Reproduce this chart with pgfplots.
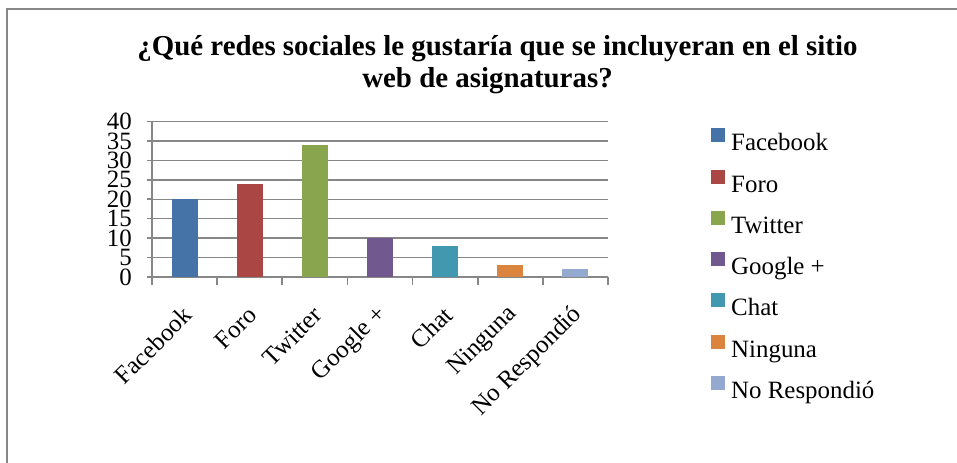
\documentclass[border=0pt]{standalone}
\usepackage{fontspec}
\setmainfont{Liberation Serif}
\usepackage{pgfplots}
\pgfplotsset{compat=1.18}
\definecolor{cFacebook}{HTML}{4572A7}
\definecolor{cForo}{HTML}{AA4643}
\definecolor{cTwitter}{HTML}{89A54E}
\definecolor{cGoogle}{HTML}{71588F}
\definecolor{cChat}{HTML}{4198AF}
\definecolor{cNinguna}{HTML}{DB843D}
\definecolor{cNoResp}{HTML}{93A9CF}
\definecolor{gridgray}{HTML}{878787}
\newcommand{\lbl}{\fontsize{25}{30}\selectfont}
\begin{document}
\begin{tikzpicture}
\path[use as bounding box] (0,0) rectangle (957bp,463bp);
\draw[gridgray, line width=2bp] (7bp,0) -- (7bp,454bp) -- (957bp,454bp);
\node[anchor=base, font=\fontsize{29}{33}\selectfont\bfseries] at (497.5bp,407bp)
  {¿Qué redes sociales le gustaría que se incluyeran en el sitio};
\node[anchor=base, font=\fontsize{29}{33}\selectfont\bfseries] at (487.5bp,375bp)
  {web de asignaturas?};
\begin{axis}[
  at={(152bp,186bp)}, anchor=south west,
  scale only axis, width=456bp, height=155.5bp,
  xmin=-0.5, xmax=6.5, ymin=0, ymax=40,
  axis lines*=left,
  axis line style={gridgray, line width=1.6bp, -},
  ybar, bar width=26bp,
  xtick={0,...,6},
  xticklabels={Facebook,Foro,Twitter,Google +,Chat,Ninguna,No Respondió},
  major x tick style={draw=none},
  minor xtick={-0.5,0.5,...,6.5},
  minor x tick style={gridgray, line width=1.6bp},
  minor tick length=8bp,
  ytick={0,5,...,40},
  major y tick style={gridgray, line width=1.6bp},
  major tick length=5bp,
  tick align=outside,
  ymajorgrids,
  major grid style={gridgray, line width=1.4bp},
  /pgf/number format/assume math mode=true,
  tick label style={font=\lbl},
  yticklabel style={inner sep=0pt, xshift=-15bp},
  xticklabel style={xshift=3bp, yshift=-29bp, rotate=45, anchor=east, inner sep=0pt},
  legend image code/.code={\fill[#1] (0bp,2.5bp) rectangle (14bp,16.5bp);},
  legend style={at={(1.2259,0.958)}, anchor=north west, draw=none, fill=none,
    inner sep=0pt, font=\lbl, row sep=12.8bp, column sep=0pt,
    nodes={inner sep=0pt, text height=18bp, text depth=6bp}},
  legend cell align=left,
]
\addplot[bar shift=0pt, fill=cFacebook, draw=none] coordinates {(0,20)};
\addlegendentry{\hspace{6bp}Facebook}
\addplot[bar shift=0pt, fill=cForo, draw=none] coordinates {(1,24)};
\addlegendentry{\hspace{6bp}Foro}
\addplot[bar shift=0pt, fill=cTwitter, draw=none] coordinates {(2,34)};
\addlegendentry{\hspace{6bp}Twitter}
\addplot[bar shift=0pt, fill=cGoogle, draw=none] coordinates {(3,10)};
\addlegendentry{\hspace{6bp}Google +}
\addplot[bar shift=0pt, fill=cChat, draw=none] coordinates {(4,8)};
\addlegendentry{\hspace{6bp}Chat}
\addplot[bar shift=0pt, fill=cNinguna, draw=none] coordinates {(5,3)};
\addlegendentry{\hspace{6bp}Ninguna}
\addplot[bar shift=0pt, fill=cNoResp, draw=none] coordinates {(6,2)};
\addlegendentry{\hspace{6bp}No Respondió}
\end{axis}
\end{tikzpicture}
\end{document}
